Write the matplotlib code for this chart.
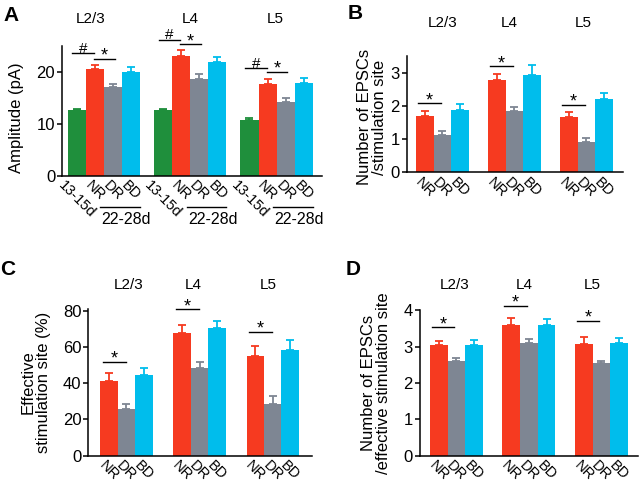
import numpy as np
import matplotlib
matplotlib.use("Agg")
import matplotlib.pyplot as plt
import matplotlib.transforms as mtransforms

plt.rcParams['font.family'] = ['Liberation Sans', 'DejaVu Sans']

# ---- data ----
layers = ['L2/3', 'L4', 'L5']

# A: amplitude (pA)
amp_p13 = [12.6, 12.6, 10.8]
amp_p13_err = [0.35, 0.35, 0.4]
amp_nr = [20.5, 23.1, 17.6]
amp_nr_err = [0.8, 1.1, 1.05]
amp_dr = [17.05, 18.65, 14.2]
amp_dr_err = [0.65, 0.95, 0.85]
amp_bd = [20.05, 21.9, 17.8]
amp_bd_err = [0.85, 1.0, 1.0]
amp_hash_y = [23.6, 26.15, 20.7]
amp_star_y = [22.55, 25.4, 20.06]

# B: number of EPSCs / stimulation site
nb_nr = [1.71, 2.80, 1.68]
nb_nr_err = [0.13, 0.18, 0.13]
nb_dr = [1.13, 1.85, 0.93]
nb_dr_err = [0.13, 0.13, 0.11]
nb_bd = [1.87, 2.93, 2.20]
nb_bd_err = [0.18, 0.32, 0.19]
nb_star_y = [2.08, 3.21, 2.04]

# C: effective stimulation site (%)
eff_nr = [41.3, 67.5, 54.7]
eff_nr_err = [4.0, 4.4, 5.5]
eff_dr = [25.9, 48.4, 28.6]
eff_dr_err = [2.5, 3.5, 4.1]
eff_bd = [44.2, 70.3, 58.3]
eff_bd_err = [4.2, 4.0, 5.4]
eff_star_y = [51.9, 80.7, 68.3]

# D: number of EPSCs / effective stimulation site
ne_nr = [3.06, 3.60, 3.07]
ne_nr_err = [0.11, 0.18, 0.19]
ne_dr = [2.62, 3.09, 2.54]
ne_dr_err = [0.08, 0.11, 0.08]
ne_bd = [3.06, 3.59, 3.10]
ne_bd_err = [0.12, 0.16, 0.13]
ne_star_y = [3.53, 4.13, 3.72]

GREEN = '#1f8f3c'
RED = '#f63a20'
GRAY = '#7e8693'
BLUE = '#00bdec'
TICK_FS = 12
LABEL_FS = 12
TITLE_FS = 11
XT_FS = 10.5


def draw_bars(ax, means, errs, colors, labels, spacing, xlim, ylim, yticks):
    centers = []
    for i in range(len(means)):
        x = np.arange(len(layers)) * spacing + i
        ax.bar(x, means[i], width=1.0, color=colors[i], linewidth=0, zorder=2)
        ax.errorbar(x, means[i], yerr=[np.zeros(len(x)), errs[i]], fmt='none',
                    ecolor=colors[i], elinewidth=1.3, capsize=3, capthick=1.3, zorder=1)
        centers.append(x)
    ticks = np.sort(np.concatenate(centers))
    ax.set_xticks(ticks)
    ax.set_xticklabels(labels * len(layers), rotation=-45, ha='center', va='top',
                       fontsize=XT_FS)
    ax.tick_params(axis='x', length=0, pad=2)
    ax.tick_params(axis='y', length=3.5, width=1.1, labelsize=TICK_FS, pad=1.5)
    ax.set_xlim(*xlim)
    ax.set_ylim(*ylim)
    ax.set_yticks(yticks)
    for s in ['top', 'right']:
        ax.spines[s].set_visible(False)
    for s in ['left', 'bottom']:
        ax.spines[s].set_linewidth(1.1)


def sig(ax, x0, x1, y, sym):
    ax.plot([x0, x1], [y, y], color='black', lw=1.0, clip_on=False, zorder=3)
    if sym == '*':
        fs, dy = 13, -1.5
    else:
        fs, dy = 11, 0.5
    ax.annotate(sym, xy=((x0 + x1) / 2, y), xytext=(0, dy), textcoords='offset points',
                ha='center', va='baseline', fontsize=fs, annotation_clip=False)


def titles(ax, xs, y):
    trans = mtransforms.blended_transform_factory(ax.transData, ax.transAxes)
    for x, name in zip(xs, layers):
        ax.text(x, y, name, transform=trans, ha='center', va='center', fontsize=TITLE_FS)


fig = plt.figure(figsize=(6.4, 4.9), dpi=100)

# ---- A ----
axA = fig.add_axes([0.097, 0.641, 0.406, 0.265])
spA = 4.77
draw_bars(axA, [amp_p13, amp_nr, amp_dr, amp_bd],
          [amp_p13_err, amp_nr_err, amp_dr_err, amp_bd_err],
          [GREEN, RED, GRAY, BLUE], ['13-15d', 'NR', 'DR', 'BD'],
          spA, (-0.8, 13.54), (0, 25), [0, 10, 20])
titles(axA, [0.8, spA + 1.5, 2 * spA + 1.4], 1.208)
transA = mtransforms.blended_transform_factory(axA.transData, axA.transAxes)
for g in range(3):
    base = g * spA
    sig(axA, base - 0.23, base + 0.95, amp_hash_y[g], '#')
    sig(axA, base + 0.95, base + 2.1, amp_star_y[g], '*')
    axA.plot([base + 1.3, base + 3.5], [-0.242, -0.242], color='black', lw=1.0,
             transform=transA, clip_on=False)
    axA.text(base + 2.75, -0.335, '22-28d', transform=transA, ha='center', va='center',
             fontsize=11.5)
axA.text(-0.175, 0.45, 'Amplitude (pA)', transform=axA.transAxes, rotation=90,
         ha='center', va='center', fontsize=LABEL_FS)

# ---- B ----
axB = fig.add_axes([0.6355, 0.648, 0.3375, 0.237])
spB = 4.1
draw_bars(axB, [nb_nr, nb_dr, nb_bd], [nb_nr_err, nb_dr_err, nb_bd_err],
          [RED, GRAY, BLUE], ['NR', 'DR', 'BD'], spB, (-1.03, 11.27), (0, 3.5),
          [0, 1, 2, 3])
titles(axB, [1.0, spB + 0.7, 2 * spB + 0.8], 1.285)
for g in range(3):
    sig(axB, g * spB - 0.37, g * spB + 0.92, nb_star_y[g], '*')
axB.text(-0.16, 0.476, 'Number of EPSCs\n/stimulation site', transform=axB.transAxes,
         rotation=90, ha='center', va='center', fontsize=LABEL_FS, linespacing=1.0)

# ---- C ----
axC = fig.add_axes([0.138, 0.070, 0.349, 0.300])
spC = 4.19
draw_bars(axC, [eff_nr, eff_dr, eff_bd], [eff_nr_err, eff_dr_err, eff_bd_err],
          [RED, GRAY, BLUE], ['NR', 'DR', 'BD'], spC, (-1.18, 11.61), (0, 81),
          [0, 20, 40, 60, 80])
titles(axC, [1.13, spC + 0.64, 2 * spC + 0.75], 1.16)
for g in range(3):
    sig(axC, g * spC - 0.35, g * spC + 0.95, eff_star_y[g], '*')
axC.text(-0.235, 0.5, 'Effective\nstimulation site (%)', transform=axC.transAxes,
         rotation=90, ha='center', va='center', fontsize=LABEL_FS, linespacing=1.0)

# ---- D ----
axD = fig.add_axes([0.656, 0.070, 0.341, 0.298])
spD = 4.1
draw_bars(axD, [ne_nr, ne_dr, ne_bd], [ne_nr_err, ne_dr_err, ne_bd_err],
          [RED, GRAY, BLUE], ['NR', 'DR', 'BD'], spD, (-1.07, 11.27), (0, 4.02),
          [0, 1, 2, 3, 4])
titles(axD, [0.92, spD + 0.74, 2 * spD + 0.5], 1.17)
for g in range(3):
    sig(axD, g * spD - 0.39, g * spD + 0.87, ne_star_y[g], '*')
axD.text(-0.2, 0.5, 'Number of EPSCs\n/effective stimulation site',
         transform=axD.transAxes, rotation=90, ha='center', va='center',
         fontsize=LABEL_FS, linespacing=1.0)

# panel letters
for letter, (x, y) in zip('ABCD', [(0.017, 0.969), (0.555, 0.973),
                                   (0.0125, 0.449), (0.552, 0.449)]):
    fig.text(x, y, letter, fontsize=15, fontweight='bold', ha='center', va='center')

fig.savefig('out.png', dpi=100)
